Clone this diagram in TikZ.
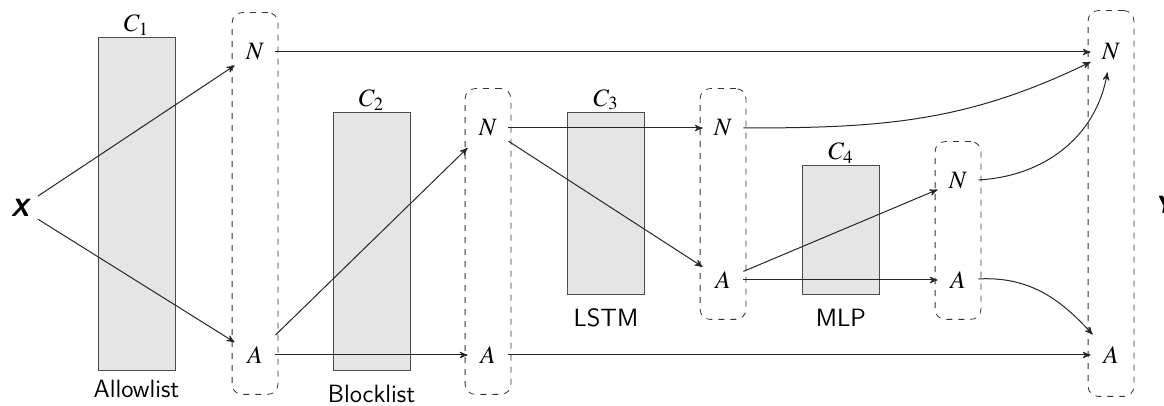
\documentclass[tikz,border=0pt]{standalone}
\usepackage{mathptmx}
\usepackage{tikz}
\usetikzlibrary{arrows}
\usetikzlibrary{fit}

\tikzset{
  model/.style={draw=black!70, fill=black!10, minimum width=38.5pt, inner sep=0pt},
  cell/.style={minimum width=20pt, minimum height=20pt, inner sep=0pt},
  layer/.style={draw=black!80, dashed, rounded corners=5pt, inner xsep=1.25pt, inner ysep=9.5pt},
  flow/.style={->, >=stealth', line width=0.5pt, black!85},
}

\begin{document}
\begin{tikzpicture}[x=0.5pt, y=0.5pt, node font=\fontsize{12.5}{14}\selectfont]
			\useasboundingbox (0,0) rectangle (1164,-406);
			% classifiers
			\node[model, minimum height=166.5pt, label={[inner sep=0.5pt]above:$C_1$}, label={[inner sep=4.5pt]below:\sffamily Allowlist}] (c1) at (136.5,-203.5) {};
			\node[model, minimum height=129pt, label={[inner sep=0.5pt]above:$C_2$}, label={[inner sep=7pt]below:\sffamily Blocklist}] (c2) at (371.5,-241) {};
			\node[model, minimum height=91pt, label={[inner sep=0.5pt]above:$C_3$}, label={[inner sep=7pt]below:\sffamily LSTM}] (c3) at (606,-203) {};
			\node[model, minimum height=64.5pt, label={[inner sep=0.5pt]above:$C_4$}, label={[inner sep=7pt]below:\sffamily MLP}] (c4) at (841,-229.5) {};
			% input and output
			\node (x) at (20,-208) {\sffamily\bfseries\itshape X};
			\node (y) at (1164,-205) {\sffamily\bfseries\itshape Y};
			% decisions
			\node[cell] (n1) at (255,-52) {$N$};
			\node[cell] (a1) at (255,-355) {$A$};
			\node[cell] (n2) at (488,-128) {$N$};
			\node[cell] (a2) at (488,-355) {$A$};
			\node[cell] (n3) at (723,-128) {$N$};
			\node[cell] (a3) at (723,-280) {$A$};
			\node[cell] (n4) at (958,-181) {$N$};
			\node[cell] (a4) at (958,-280) {$A$};
			\node[cell] (n5) at (1111,-52) {$N$};
			\node[cell] (a5) at (1111,-355) {$A$};
			\node[layer, fit=(n1)(a1)] (g1) {};
			\node[layer, fit=(n2)(a2)] (g2) {};
			\node[layer, fit=(n3)(a3)] (g3) {};
			\node[layer, fit=(n4)(a4)] (g4) {};
			\node[layer, fit=(n5)(a5), inner ysep=10.5pt] (g5) {};
			% connections
			\draw[flow] (x) -- (n1);
			\draw[flow] (x) -- (a1);
			\draw[flow] (n1) -- (n5);
			\draw[flow] (a1) -- (n2);
			\draw[flow] (a1) -- (a2);
			\draw[flow] (n2) -- (n3);
			\draw[flow] (n2) -- (a3);
			\draw[flow] (a2) -- (a5);
			\draw[flow] (n3) to[out=0, in=206] (n5);
			\draw[flow] (a3) -- (n4);
			\draw[flow] (a3) -- (a4);
			\draw[flow] (n4) to[out=3, in=260] (n5);
			\draw[flow] (a4) to[out=3, in=132] (a5);
		\end{tikzpicture}
\end{document}
